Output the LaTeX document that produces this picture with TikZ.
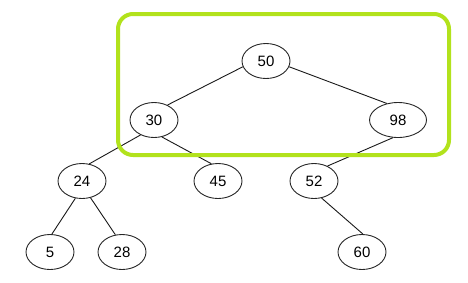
\documentclass[tikz,border=0pt]{standalone}
\usepackage{fontspec}
\setmainfont{Liberation Sans}
\usepackage{xcolor}
\usetikzlibrary{positioning, shapes.geometric}

\definecolor{limegreen}{RGB}{178,226,28}

\begin{document}
\begin{tikzpicture}[
                x=1pt, y=-1pt,
                font=\fontsize{15}{17}\selectfont,
                tree_node/.style={ellipse, draw=black!85, line width=0.9pt, minimum width=48pt, minimum height=35pt, inner sep=0pt},
                wide_node/.style={tree_node, minimum width=57pt},
                branch/.style={black!90, line width=0.9pt},
                frame_box/.style={draw=limegreen, line width=4pt, rounded corners=15pt}
            ]
                \useasboundingbox (0,0) rectangle (468,282);

                % Root and first level
                \node[tree_node] (n50) at (266,61) {50};
                \node[tree_node] (n30) at (154,120) {30};
                \node[wide_node] (n98) at (398,120) {98};

                % Second level
                \node[tree_node] (n24) at (82,181) {24};
                \node[tree_node] (n45) at (218,181) {45};
                \node[tree_node] (n52) at (314,181) {52};

                % Leaves
                \node[tree_node] (n5) at (50,252) {5};
                \node[tree_node] (n28) at (122,252) {28};
                \node[tree_node] (n60) at (362,252) {60};

                % Branches
                \draw[branch] (n50.194) -- (n30.48);
                \draw[branch] (n50.346) -- (n98.124);
                \draw[branch] (n30.228) -- (n24.67);
                \draw[branch] (n30.295) -- (n45.111);
                \draw[branch] (n98.254) -- (n52.48);
                \draw[branch] (n24.249) -- (n5.84);
                \draw[branch] (n24.297) -- (n28.111);
                \draw[branch] (n52.294) -- (n60.87);

                % Highlight frame
                \draw[frame_box] (118,14) rectangle (449,155);

            \end{tikzpicture}
\end{document}
